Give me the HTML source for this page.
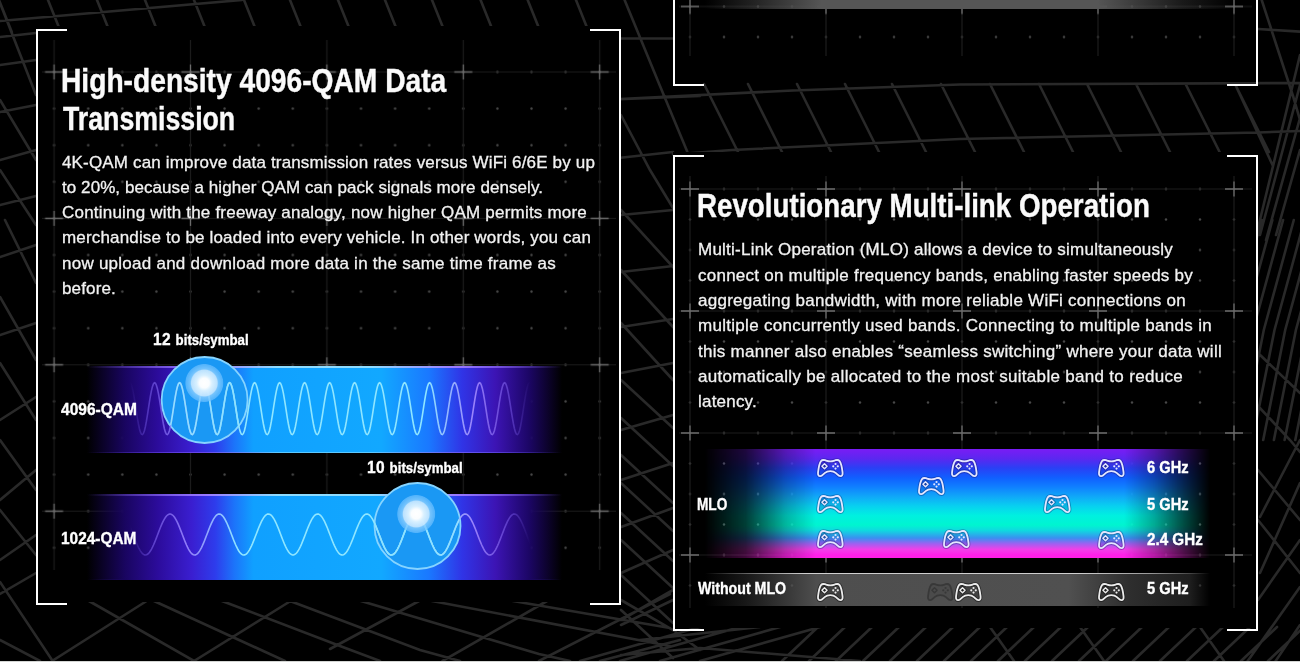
<!DOCTYPE html>
<html lang="en"><head><meta charset="utf-8"><title>WiFi 7 features</title>
<style>
html,body{margin:0;padding:0;background:#000;}
body{width:1300px;height:662px;position:relative;overflow:hidden;font-family:"Liberation Sans",sans-serif;color:#f4f4f4;}
.abs{position:absolute}
.panel{position:absolute;}
.blk{position:absolute;background:#000}
.panel:before,.panel:after{content:"";position:absolute;top:0;bottom:0;width:29px;border:2px solid #fff;}
.panel:before{left:0;border-right:none}
.panel:after{right:0;border-left:none}
.panel.notop:before,.panel.notop:after{border-top:none}
.grid{position:absolute;left:0;top:0}
h2{margin:0}
.ln{position:absolute;white-space:nowrap;font-size:17px;line-height:20px;color:#f2f2f2;-webkit-text-stroke:.3px #f2f2f2}
.lb{position:absolute;white-space:nowrap;font-weight:bold;transform-origin:0 50%;color:#fff;line-height:20px;-webkit-text-stroke:.35px #fff}
.lb.hd{line-height:40px;color:#fafafa;-webkit-text-stroke:.4px #fafafa}
.lb .n{font-size:117%;letter-spacing:.5px;margin-right:.8px}
.gp{position:absolute;color:#e4e6ff;overflow:visible;--sh:rgba(12,14,90,.34);--f:rgba(20,30,150,.14)}
.gp.g{color:#ececec;--sh:rgba(20,20,20,.6);--f:rgba(40,40,40,.35)}
.gp.ghost{color:#353535;--sh:rgba(60,60,60,.0);--f:rgba(60,60,60,.25);opacity:.85}
</style></head><body>
<svg width="0" height="0" style="position:absolute"><defs><symbol id="gp" viewBox="0 0 28 19.4" overflow="visible"><path d="M4.2 2.2C5 1.2 7 .9 8.5 1.3C10.5 1.9 12 2.5 14 2.5C16 2.5 17.5 1.9 19.5 1.3C21 .9 23 1.2 23.8 2.2C25.2 4 26.3 9 26.9 14C27.2 16.5 26.5 18 24.6 18.1C22.8 18.2 21.5 16.2 20 14.9C18.5 13.6 16.5 12.8 14 12.8C11.5 12.8 9.5 13.6 8 14.9C6.5 16.2 5.2 18.2 3.4 18.1C1.5 18 .8 16.5 1.1 14C1.7 9 2.8 4 4.2 2.2Z" fill="var(--f)" stroke="var(--sh)" stroke-width="3.8" stroke-linejoin="round"/><path d="M7.9 4.6 10.9 7.6 7.9 10.6 4.9 7.6Z" fill="var(--sh)" stroke="var(--sh)" stroke-width="3" stroke-linejoin="round"/><path d="M4.2 2.2C5 1.2 7 .9 8.5 1.3C10.5 1.9 12 2.5 14 2.5C16 2.5 17.5 1.9 19.5 1.3C21 .9 23 1.2 23.8 2.2C25.2 4 26.3 9 26.9 14C27.2 16.5 26.5 18 24.6 18.1C22.8 18.2 21.5 16.2 20 14.9C18.5 13.6 16.5 12.8 14 12.8C11.5 12.8 9.5 13.6 8 14.9C6.5 16.2 5.2 18.2 3.4 18.1C1.5 18 .8 16.5 1.1 14C1.7 9 2.8 4 4.2 2.2Z" fill="none" stroke="currentColor" stroke-width="1.9" stroke-linejoin="round"/><path d="M7.9 4.9 10.6 7.6 7.9 10.3 5.2 7.6Z" fill="none" stroke="currentColor" stroke-width="1.5" stroke-linejoin="round"/><g fill="currentColor"><circle cx="19.5" cy="5.3" r="1.15"/><circle cx="19.5" cy="10.1" r="1.15"/><circle cx="17.1" cy="7.7" r="1.15"/><circle cx="21.9" cy="7.7" r="1.15"/></g></symbol></defs></svg>
<svg class="abs" style="left:0;top:0" width="1300" height="662" fill="none" stroke="#292929" stroke-width="2.6" stroke-linecap="round" style="filter:blur(.8px)">
<path d="M0 21 L242 0M-1 0 L11.8 32M48 0 L60.8 32M97 0 L109.8 32M145 0 L157.8 32M194 0 L206.8 32M244 0 L256.8 32M290 0 L302.8 32M338 0 L350.8 32M385 0 L397.8 32M432 0 L444.8 32M480.6 0 L493.4 32M527.7 0 L540.5 32M576 0 L588.8 32M624.6 0 L660 86 L687 151 L700 185M621 38.5 L673 38.5M600 100 L700 96M600 160 L673 152M621 115 L650 170 L673 208M620 99 L793 90.5 L960 84.5 L1300 83M673 154.5 L732 150 L960 139 L1258 132.5 L1300 131M704 84 L738 152M748 84 L782 152M797 84 L831 152M845 84 L879 152M892 84 L926 152M941 84 L975 152M990 84 L1024 152M1039 84 L1073 152M1087 84 L1121 152M1136 84 L1170 152M1185.6 84 L1219.6 152M1235 84 L1269 152M1235 84 L1273 166M1258 29 L1300 31.6M1261.7 0 L1293 96 L1300 120M1300 55 L1258 228M1300 85 L1260 235M1300 118 L1266 240M1300 150 L1276 235M1251 220 L1221 330 L1199 440M1261.7 220 L1231.7 330 L1209.7 440M1272.4 220 L1242.4 330 L1220.4 440M1283.1 220 L1253.1 330 L1231.1 440M1293.8 220 L1263.8 330 L1241.8 440M1304.5 220 L1274.5 330 L1252.5 440M1315.2 220 L1285.2 330 L1263.2 440M1325.9 220 L1295.9 330 L1273.9 440M1336.6 220 L1306.6 330 L1284.6 440M1347.3 220 L1317.3 330 L1295.3 440M1358 220 L1328 330 L1306 440M1368.7 220 L1338.7 330 L1316.7 440M1379.4 220 L1349.4 330 L1327.4 440M1258 353 L1300 393M1258 406 L1290 440 L1300 452M1260 517 L1300 440M1260 573 L1300 483M1258 520 L1300 573M1258 470 L1300 520M1247 662 L1300 587M1275 662 L1300 625M1258 600 L1300 540M580 661 L700 627M620 661 L740 627M660 661 L780 627M700 661 L820 627M782 661 L818 627M809 661 L845 627M836 661 L872 627M863 661 L899 627M890 661 L926 627M917 661 L953 627M944 661 L980 627M971 661 L1007 627M998 661 L1034 627M1025 661 L1061 627M1052 661 L1088 627M1079 661 L1115 627M1106 661 L1142 627M1133 661 L1169 627M1160 661 L1196 627M1187 661 L1223 627M1214 661 L1250 627M1241 661 L1277 627M1268 661 L1304 627M990 627 L1014 661M1080 627 L1104 661M1200 627 L1224 661M640 640 L760 627M621 655 L700 648 L860 661M621 210 L673 267M621 270 L673 327M621 323 L673 380M621 380 L673 428M621 418 L673 466M621 455 L673 503M621 483 L673 531M621 513 L673 561M621 540 L673 588M621 575 L673 623M621 610 L673 658M621 215 L673 210M621 272 L673 266M621 327 L673 319M621 373 L673 363M621 430 L673 415M621 480 L673 463M621 527 L673 508M621 573 L673 550M621 620 L673 590M621 600 L673 630 L700 650M621 625 L673 600M0 582 L52 660M89 601 L194 661M154 601 L285 661M222 601 L340 646 L380 661M290 601 L420 650 L460 661M52 661 L146.6 601M194 661 L290.6 601M0 594 L36 573M0 640 L40 661M330 649 L419 601M442.5 661 L547 601M539 661 L670 594M361 601 L539 654 L570 661M432 601 L670 646M513 601 L670 628M600 661 L680 640M0 3 L36 95M0 37 L36 33M0 65 L36 60M0 112 L36 105M0 100 L36 160M0 160 L36 150M0 170 L36 225M0 205 L36 196M5 220 L36 283M0 257 L36 245M0 297 L36 360M0 335 L36 323M0 363 L36 420M0 420 L36 397M0 440 L36 490M0 500 L36 470M0 510 L36 555M0 560 L36 535"/>
</svg>
<!-- left panel -->
<div class="blk" style="left:36px;top:26px;width:585px;height:575.5px"></div>
<svg class="abs" style="left:0;top:0" width="1300" height="662"><defs>
<pattern id="gla" patternUnits="userSpaceOnUse" x="37.05" y="53.7" width="34.1" height="36.6"><circle cx="17.05" cy="18.3" r="1.2" fill="#484848"/></pattern>
<pattern id="glb" patternUnits="userSpaceOnUse" x="-14.1" y="-1.2" width="136.4" height="146.4"><path d="M68.2 0V146.4M0 73.2H136.4" stroke="#1b1b1b" stroke-width="1.2"/><path d="M68.2 65.7v15M59.2 73.2h18" stroke="#6c6c6c" stroke-width="1.3"/></pattern>
</defs><rect x="42" y="40" width="574" height="530" fill="url(#gla)"/><rect x="42" y="40" width="574" height="530" fill="url(#glb)"/></svg>
<div class="panel" style="left:36px;top:29px;width:585px;height:576px"></div>
<!-- right top panel -->
<div class="blk" style="left:672.5px;top:0;width:585px;height:82px"></div>
<svg class="abs" style="left:0;top:0" width="1300" height="662"><defs>
<pattern id="gta" patternUnits="userSpaceOnUse" x="673.00" y="-8.75" width="34" height="30.5"><circle cx="17.00" cy="15.25" r="1.2" fill="#484848"/></pattern>
<pattern id="gtb" patternUnits="userSpaceOnUse" x="622.00" y="-54.5" width="136" height="122.0"><path d="M68.00 0V122.0M0 61.00H136" stroke="#1b1b1b" stroke-width="1.2"/><path d="M68.00 53.5v15M59.00 61.00h18" stroke="#6c6c6c" stroke-width="1.3"/></pattern>
</defs><rect x="679" y="0" width="573" height="56" fill="url(#gta)"/><rect x="679" y="0" width="573" height="56" fill="url(#gtb)"/></svg>
<div class="panel notop" style="left:672.5px;top:-10px;width:585px;height:95.5px"></div>
<div class="abs" style="left:705px;top:0;width:530px;height:8.8px;background:linear-gradient(90deg,rgba(86,86,86,0) 0,rgba(86,86,86,.35) 8%,#565656 22%,#565656 74%,rgba(86,86,86,.3) 90%,rgba(86,86,86,0) 100%)"></div>
<!-- right main panel -->
<div class="blk" style="left:672.5px;top:151.5px;width:585px;height:476px"></div>
<svg class="abs" style="left:0;top:0" width="1300" height="662"><defs>
<pattern id="gra" patternUnits="userSpaceOnUse" x="673.00" y="173.75" width="34" height="30.5"><circle cx="17.00" cy="15.25" r="1.2" fill="#484848"/></pattern>
<pattern id="grb" patternUnits="userSpaceOnUse" x="622.00" y="128.00" width="136" height="122.0"><path d="M68.00 0V122.0M0 61.00H136" stroke="#1b1b1b" stroke-width="1.2"/><path d="M68.00 53.5v15M59.00 61.00h18" stroke="#6c6c6c" stroke-width="1.3"/></pattern>
</defs><rect x="679" y="176" width="573" height="432" fill="url(#gra)"/><rect x="679" y="176" width="573" height="432" fill="url(#grb)"/></svg>
<div class="panel" style="left:672.5px;top:154.5px;width:585px;height:476.5px"></div>

<h2 class="lb hd" id="h1a" style="left:60.95px;top:60.52px;font-size:32.3px;transform:scaleX(0.8726)">High-density 4096-QAM Data</h2>
<h2 class="lb hd" id="h1b" style="left:63.00px;top:98.7px;font-size:32.3px;transform:scaleX(0.827)">Transmission</h2>
<div class="ln" id="L0" style="left:62px;top:152.5px;letter-spacing:0.162px">4K-QAM can improve data transmission rates versus WiFi 6/6E by up</div>
<div class="ln" id="L1" style="left:62px;top:177.8px;letter-spacing:0.07px">to 20%, because a higher QAM can pack signals more densely.</div>
<div class="ln" id="L2" style="left:62px;top:203.1px;letter-spacing:0.206px">Continuing with the freeway analogy, now higher QAM permits more</div>
<div class="ln" id="L3" style="left:62px;top:228.4px;letter-spacing:0.164px">merchandise to be loaded into every vehicle. In other words, you can</div>
<div class="ln" id="L4" style="left:62px;top:253.7px;letter-spacing:0.252px">now upload and download more data in the same time frame as</div>
<div class="ln" id="L5" style="left:62px;top:279.00px;letter-spacing:0.153px">before.</div>

<h2 class="lb hd" id="h2" style="left:696.71px;top:186.09px;font-size:32.3px;transform:scaleX(0.8584)">Revolutionary Multi-link Operation</h2>
<div class="ln" id="R0" style="left:698px;top:240.2px;letter-spacing:0.232px">Multi-Link Operation (MLO) allows a device to simultaneously</div>
<div class="ln" id="R1" style="left:698px;top:265.55px;letter-spacing:0.24px">connect on multiple frequency bands, enabling faster speeds by</div>
<div class="ln" id="R2" style="left:698px;top:290.9px;letter-spacing:0.254px">aggregating bandwidth, with more reliable WiFi connections on</div>
<div class="ln" id="R3" style="left:698px;top:316.25px;letter-spacing:0.289px">multiple concurrently used bands. Connecting to multiple bands in</div>
<div class="ln" id="R4" style="left:698px;top:341.6px;letter-spacing:0.266px">this manner also enables “seamless switching” where your data will</div>
<div class="ln" id="R5" style="left:698px;top:366.95px;letter-spacing:0.308px">automatically be allocated to the most suitable band to reduce</div>
<div class="ln" id="R6" style="left:698px;top:392.3px;letter-spacing:0.208px">latency.</div>

<!-- QAM bands -->
<div class="abs" style="left:87px;top:366px;width:475px;height:87px;background:linear-gradient(90deg,rgba(20,0,80,0) 0,#190560 8%,#2c0c9c 15%,#3a1ed0 22%,#2e3cec 27%,#1c74fa 31%,#10a0ff 35%,#12a8ff 62%,#1a78ff 72%,#3034e6 79%,#3c14b4 86%,#1c0666 93%,rgba(20,0,80,0) 100%)"></div>
<div class="abs" style="left:87px;top:366px;width:475px;height:1.5px;background:linear-gradient(90deg,rgba(150,110,255,0) 0,#9a78ff 25%,#8fdcff 40%,#8fdcff 60%,#9a78ff 78%,rgba(150,110,255,0) 100%)"></div>
<div class="abs" style="left:87px;top:451.5px;width:475px;height:1.5px;background:linear-gradient(90deg,rgba(120,80,255,0) 0,#6a48e8 25%,#5cc8ff 40%,#5cc8ff 60%,#6a58f0 78%,rgba(120,80,255,0) 100%)"></div>
<div class="abs" style="left:87px;top:578.5px;width:475px;height:1.5px;background:linear-gradient(90deg,rgba(120,80,255,0) 0,#4a30c8 25%,#2a90f0 40%,#2a90f0 60%,#4a40e0 78%,rgba(120,80,255,0) 100%)"></div>
<div class="abs" style="left:87px;top:494px;width:475px;height:86px;background:linear-gradient(90deg,rgba(20,0,80,0) 0,#190560 8%,#2c0c9c 15%,#3a1ed0 22%,#2e3cec 27%,#1c74fa 31%,#10a0ff 35%,#12a8ff 62%,#1a78ff 72%,#3034e6 79%,#3c14b4 86%,#1c0666 93%,rgba(20,0,80,0) 100%)"></div>
<div class="abs" style="left:87px;top:494px;width:475px;height:1.5px;background:linear-gradient(90deg,rgba(150,110,255,0) 0,#9a78ff 25%,#8fdcff 40%,#8fdcff 60%,#9a78ff 78%,rgba(150,110,255,0) 100%)"></div>
<svg class="abs" style="left:0;top:0" width="1300" height="662">
<defs>
<linearGradient id="wv" x1="130" x2="530" gradientUnits="userSpaceOnUse"><stop offset="0" stop-color="#7a5cf0" stop-opacity="0"/><stop offset=".05" stop-color="#7c60f0" stop-opacity=".55"/><stop offset=".14" stop-color="#9a86ff" stop-opacity=".9"/><stop offset=".27" stop-color="#8fe6ff"/><stop offset=".74" stop-color="#8fe6ff"/><stop offset=".86" stop-color="#a58cff" stop-opacity=".9"/><stop offset=".95" stop-color="#8060f0" stop-opacity=".5"/><stop offset="1" stop-color="#8a6cff" stop-opacity="0"/></linearGradient>
<clipPath id="c1"><circle cx="204.6" cy="400" r="42.5"/></clipPath><clipPath id="c2"><circle cx="417.5" cy="526" r="42.5"/></clipPath>
<radialGradient id="glow"><stop offset="0" stop-color="#fff"/><stop offset=".25" stop-color="#fafdff"/><stop offset=".4" stop-color="#d8f0ff"/><stop offset=".66" stop-color="#c4e6ff" stop-opacity=".95"/><stop offset=".72" stop-color="#86ccff" stop-opacity=".85"/><stop offset=".95" stop-color="#6cc0ff" stop-opacity=".7"/><stop offset="1" stop-color="#40a8ff" stop-opacity="0"/></radialGradient>
</defs>
<circle cx="204.6" cy="400" r="43" fill="#1a98f4" stroke="#86d4ff" stroke-width="1.8"/>
<circle cx="417.5" cy="526" r="43" fill="#1a98f4" stroke="#86d4ff" stroke-width="1.8"/>
<path d="M123.5,408.7 L124.5,402.23 L125.5,396.17 L126.5,390.9 L127.5,386.75 L128.4,383.97 L129.4,382.75 L130.4,383.16 L131.4,385.17 L132.4,388.67 L133.4,393.42 L134.4,399.13 L135.4,405.44 L136.4,411.96 L137.4,418.27 L138.4,423.98 L139.4,428.73 L140.4,432.23 L141.4,434.24 L142.4,434.65 L143.4,433.43 L144.4,430.65 L145.4,426.5 L146.4,421.23 L147.4,415.17 L148.4,408.7 L149.4,402.23 L150.4,396.17 L151.4,390.9 L152.4,386.75 L153.4,383.97 L154.4,382.75 L155.4,383.16 L156.4,385.17 L157.4,388.67 L158.4,393.42 L159.4,399.13 L160.4,405.44 L161.4,411.96 L162.4,418.27 L163.4,423.98 L164.4,428.73 L165.4,432.23 L166.4,434.24 L167.4,434.65 L168.4,433.43 L169.4,430.65 L170.4,426.5 L171.4,421.23 L172.4,415.17 L173.4,408.7 L174.4,402.23 L175.4,396.17 L176.4,390.9 L177.4,386.75 L178.4,383.97 L179.4,382.75 L180.4,383.16 L181.4,385.17 L182.4,388.67 L183.4,393.42 L184.4,399.13 L185.4,405.44 L186.4,411.96 L187.4,418.27 L188.4,423.98 L189.4,428.73 L190.4,432.23 L191.4,434.24 L192.4,434.65 L193.4,433.43 L194.4,430.65 L195.4,426.5 L196.4,421.23 L197.4,415.17 L198.4,408.7 L199.4,402.23 L200.4,396.17 L201.4,390.9 L202.4,386.75 L203.4,383.97 L204.4,382.75 L205.4,383.16 L206.4,385.17 L207.4,388.67 L208.4,393.42 L209.4,399.13 L210.4,405.44 L211.4,411.96 L212.4,418.27 L213.4,423.98 L214.4,428.73 L215.4,432.23 L216.4,434.24 L217.4,434.65 L218.4,433.43 L219.4,430.65 L220.4,426.5 L221.4,421.23 L222.4,415.17 L223.4,408.7 L224.4,402.23 L225.4,396.17 L226.4,390.9 L227.4,386.75 L228.4,383.97 L229.4,382.75 L230.4,383.16 L231.4,385.17 L232.4,388.67 L233.4,393.42 L234.4,399.13 L235.4,405.44 L236.4,411.96 L237.4,418.27 L238.4,423.98 L239.4,428.73 L240.4,432.23 L241.4,434.24 L242.4,434.65 L243.4,433.43 L244.4,430.65 L245.4,426.5 L246.4,421.23 L247.4,415.17 L248.4,408.7 L249.4,402.23 L250.4,396.17 L251.4,390.9 L252.4,386.75 L253.4,383.97 L254.4,382.75 L255.4,383.16 L256.4,385.17 L257.4,388.67 L258.4,393.42 L259.4,399.13 L260.4,405.44 L261.4,411.96 L262.4,418.27 L263.4,423.98 L264.4,428.73 L265.4,432.23 L266.4,434.24 L267.4,434.65 L268.4,433.43 L269.4,430.65 L270.4,426.5 L271.4,421.23 L272.4,415.17 L273.4,408.7 L274.4,402.23 L275.4,396.17 L276.4,390.9 L277.4,386.75 L278.4,383.97 L279.4,382.75 L280.4,383.16 L281.4,385.17 L282.4,388.67 L283.4,393.42 L284.4,399.13 L285.4,405.44 L286.4,411.96 L287.4,418.27 L288.4,423.98 L289.4,428.73 L290.4,432.23 L291.4,434.24 L292.4,434.65 L293.4,433.43 L294.4,430.65 L295.4,426.5 L296.4,421.23 L297.4,415.17 L298.4,408.7 L299.4,402.23 L300.4,396.17 L301.4,390.9 L302.4,386.75 L303.4,383.97 L304.4,382.75 L305.4,383.16 L306.4,385.17 L307.4,388.67 L308.4,393.42 L309.4,399.13 L310.4,405.44 L311.4,411.96 L312.4,418.27 L313.4,423.98 L314.4,428.73 L315.4,432.23 L316.4,434.24 L317.4,434.65 L318.4,433.43 L319.4,430.65 L320.4,426.5 L321.4,421.23 L322.4,415.17 L323.4,408.7 L324.4,402.23 L325.4,396.17 L326.4,390.9 L327.4,386.75 L328.4,383.97 L329.4,382.75 L330.4,383.16 L331.4,385.17 L332.4,388.67 L333.4,393.42 L334.4,399.13 L335.4,405.44 L336.4,411.96 L337.4,418.27 L338.4,423.98 L339.4,428.73 L340.4,432.23 L341.4,434.24 L342.4,434.65 L343.4,433.43 L344.4,430.65 L345.4,426.5 L346.4,421.23 L347.4,415.17 L348.4,408.7 L349.4,402.23 L350.4,396.17 L351.4,390.9 L352.4,386.75 L353.4,383.97 L354.4,382.75 L355.4,383.16 L356.4,385.17 L357.4,388.67 L358.4,393.42 L359.4,399.13 L360.4,405.44 L361.4,411.96 L362.4,418.27 L363.4,423.98 L364.4,428.73 L365.4,432.23 L366.4,434.24 L367.4,434.65 L368.4,433.43 L369.4,430.65 L370.4,426.5 L371.4,421.23 L372.4,415.17 L373.4,408.7 L374.4,402.23 L375.4,396.17 L376.4,390.9 L377.4,386.75 L378.4,383.97 L379.4,382.75 L380.4,383.16 L381.4,385.17 L382.4,388.67 L383.4,393.42 L384.4,399.13 L385.4,405.44 L386.4,411.96 L387.4,418.27 L388.4,423.98 L389.4,428.73 L390.4,432.23 L391.4,434.24 L392.4,434.65 L393.4,433.43 L394.4,430.65 L395.4,426.5 L396.4,421.23 L397.4,415.17 L398.4,408.7 L399.4,402.23 L400.4,396.17 L401.4,390.9 L402.4,386.75 L403.4,383.97 L404.4,382.75 L405.4,383.16 L406.4,385.17 L407.4,388.67 L408.4,393.42 L409.4,399.13 L410.4,405.44 L411.4,411.96 L412.4,418.27 L413.4,423.98 L414.4,428.73 L415.4,432.23 L416.4,434.24 L417.4,434.65 L418.4,433.43 L419.4,430.65 L420.4,426.5 L421.4,421.23 L422.4,415.17 L423.4,408.7 L424.4,402.23 L425.4,396.17 L426.4,390.9 L427.4,386.75 L428.4,383.97 L429.4,382.75 L430.4,383.16 L431.4,385.17 L432.4,388.67 L433.4,393.42 L434.4,399.13 L435.4,405.44 L436.4,411.96 L437.4,418.27 L438.4,423.98 L439.4,428.73 L440.4,432.23 L441.4,434.24 L442.4,434.65 L443.4,433.43 L444.4,430.65 L445.4,426.5 L446.4,421.23 L447.4,415.17 L448.4,408.7 L449.4,402.23 L450.4,396.17 L451.4,390.9 L452.4,386.75 L453.4,383.97 L454.4,382.75 L455.4,383.16 L456.4,385.17 L457.4,388.67 L458.4,393.42 L459.4,399.13 L460.4,405.44 L461.4,411.96 L462.4,418.27 L463.4,423.98 L464.4,428.73 L465.4,432.23 L466.4,434.24 L467.4,434.65 L468.4,433.43 L469.4,430.65 L470.4,426.5 L471.4,421.23 L472.4,415.17 L473.4,408.7 L474.4,402.23 L475.4,396.17 L476.4,390.9 L477.4,386.75 L478.4,383.97 L479.4,382.75 L480.4,383.16 L481.4,385.17 L482.4,388.67 L483.4,393.42 L484.4,399.13 L485.4,405.44 L486.4,411.96 L487.4,418.27 L488.4,423.98 L489.4,428.73 L490.4,432.23 L491.4,434.24 L492.4,434.65 L493.4,433.43 L494.4,430.65 L495.4,426.5 L496.4,421.23 L497.4,415.17 L498.4,408.7 L499.4,402.23 L500.4,396.17 L501.4,390.9 L502.4,386.75 L503.4,383.97 L504.4,382.75 L505.4,383.16 L506.4,385.17 L507.4,388.67 L508.4,393.42 L509.4,399.13 L510.4,405.44 L511.4,411.96 L512.5,418.27 L513.5,423.98 L514.5,428.73 L515.5,432.23 L516.5,434.24 L517.5,434.65 L518.5,433.43 L519.5,430.65 L520.5,426.5 L521.5,421.23 L522.5,415.17 L523.5,408.7 L524.5,402.23 L525.5,396.17 L526.5,390.9 L527.5,386.75 L528.5,383.97 L529.5,382.75 L530.5,383.16" fill="none" stroke="url(#wv)" stroke-width="1.6"/>
<path d="M123.5,408.7 L124.5,402.23 L125.5,396.17 L126.5,390.9 L127.5,386.75 L128.4,383.97 L129.4,382.75 L130.4,383.16 L131.4,385.17 L132.4,388.67 L133.4,393.42 L134.4,399.13 L135.4,405.44 L136.4,411.96 L137.4,418.27 L138.4,423.98 L139.4,428.73 L140.4,432.23 L141.4,434.24 L142.4,434.65 L143.4,433.43 L144.4,430.65 L145.4,426.5 L146.4,421.23 L147.4,415.17 L148.4,408.7 L149.4,402.23 L150.4,396.17 L151.4,390.9 L152.4,386.75 L153.4,383.97 L154.4,382.75 L155.4,383.16 L156.4,385.17 L157.4,388.67 L158.4,393.42 L159.4,399.13 L160.4,405.44 L161.4,411.96 L162.4,418.27 L163.4,423.98 L164.4,428.73 L165.4,432.23 L166.4,434.24 L167.4,434.65 L168.4,433.43 L169.4,430.65 L170.4,426.5 L171.4,421.23 L172.4,415.17 L173.4,408.7 L174.4,402.23 L175.4,396.17 L176.4,390.9 L177.4,386.75 L178.4,383.97 L179.4,382.75 L180.4,383.16 L181.4,385.17 L182.4,388.67 L183.4,393.42 L184.4,399.13 L185.4,405.44 L186.4,411.96 L187.4,418.27 L188.4,423.98 L189.4,428.73 L190.4,432.23 L191.4,434.24 L192.4,434.65 L193.4,433.43 L194.4,430.65 L195.4,426.5 L196.4,421.23 L197.4,415.17 L198.4,408.7 L199.4,402.23 L200.4,396.17 L201.4,390.9 L202.4,386.75 L203.4,383.97 L204.4,382.75 L205.4,383.16 L206.4,385.17 L207.4,388.67 L208.4,393.42 L209.4,399.13 L210.4,405.44 L211.4,411.96 L212.4,418.27 L213.4,423.98 L214.4,428.73 L215.4,432.23 L216.4,434.24 L217.4,434.65 L218.4,433.43 L219.4,430.65 L220.4,426.5 L221.4,421.23 L222.4,415.17 L223.4,408.7 L224.4,402.23 L225.4,396.17 L226.4,390.9 L227.4,386.75 L228.4,383.97 L229.4,382.75 L230.4,383.16 L231.4,385.17 L232.4,388.67 L233.4,393.42 L234.4,399.13 L235.4,405.44 L236.4,411.96 L237.4,418.27 L238.4,423.98 L239.4,428.73 L240.4,432.23 L241.4,434.24 L242.4,434.65 L243.4,433.43 L244.4,430.65 L245.4,426.5 L246.4,421.23 L247.4,415.17 L248.4,408.7 L249.4,402.23 L250.4,396.17 L251.4,390.9 L252.4,386.75 L253.4,383.97 L254.4,382.75 L255.4,383.16 L256.4,385.17 L257.4,388.67 L258.4,393.42 L259.4,399.13 L260.4,405.44 L261.4,411.96 L262.4,418.27 L263.4,423.98 L264.4,428.73 L265.4,432.23 L266.4,434.24 L267.4,434.65 L268.4,433.43 L269.4,430.65 L270.4,426.5 L271.4,421.23 L272.4,415.17 L273.4,408.7 L274.4,402.23 L275.4,396.17 L276.4,390.9 L277.4,386.75 L278.4,383.97 L279.4,382.75 L280.4,383.16 L281.4,385.17 L282.4,388.67 L283.4,393.42 L284.4,399.13 L285.4,405.44 L286.4,411.96 L287.4,418.27 L288.4,423.98 L289.4,428.73 L290.4,432.23 L291.4,434.24 L292.4,434.65 L293.4,433.43 L294.4,430.65 L295.4,426.5 L296.4,421.23 L297.4,415.17 L298.4,408.7 L299.4,402.23 L300.4,396.17 L301.4,390.9 L302.4,386.75 L303.4,383.97 L304.4,382.75 L305.4,383.16 L306.4,385.17 L307.4,388.67 L308.4,393.42 L309.4,399.13 L310.4,405.44 L311.4,411.96 L312.4,418.27 L313.4,423.98 L314.4,428.73 L315.4,432.23 L316.4,434.24 L317.4,434.65 L318.4,433.43 L319.4,430.65 L320.4,426.5 L321.4,421.23 L322.4,415.17 L323.4,408.7 L324.4,402.23 L325.4,396.17 L326.4,390.9 L327.4,386.75 L328.4,383.97 L329.4,382.75 L330.4,383.16 L331.4,385.17 L332.4,388.67 L333.4,393.42 L334.4,399.13 L335.4,405.44 L336.4,411.96 L337.4,418.27 L338.4,423.98 L339.4,428.73 L340.4,432.23 L341.4,434.24 L342.4,434.65 L343.4,433.43 L344.4,430.65 L345.4,426.5 L346.4,421.23 L347.4,415.17 L348.4,408.7 L349.4,402.23 L350.4,396.17 L351.4,390.9 L352.4,386.75 L353.4,383.97 L354.4,382.75 L355.4,383.16 L356.4,385.17 L357.4,388.67 L358.4,393.42 L359.4,399.13 L360.4,405.44 L361.4,411.96 L362.4,418.27 L363.4,423.98 L364.4,428.73 L365.4,432.23 L366.4,434.24 L367.4,434.65 L368.4,433.43 L369.4,430.65 L370.4,426.5 L371.4,421.23 L372.4,415.17 L373.4,408.7 L374.4,402.23 L375.4,396.17 L376.4,390.9 L377.4,386.75 L378.4,383.97 L379.4,382.75 L380.4,383.16 L381.4,385.17 L382.4,388.67 L383.4,393.42 L384.4,399.13 L385.4,405.44 L386.4,411.96 L387.4,418.27 L388.4,423.98 L389.4,428.73 L390.4,432.23 L391.4,434.24 L392.4,434.65 L393.4,433.43 L394.4,430.65 L395.4,426.5 L396.4,421.23 L397.4,415.17 L398.4,408.7 L399.4,402.23 L400.4,396.17 L401.4,390.9 L402.4,386.75 L403.4,383.97 L404.4,382.75 L405.4,383.16 L406.4,385.17 L407.4,388.67 L408.4,393.42 L409.4,399.13 L410.4,405.44 L411.4,411.96 L412.4,418.27 L413.4,423.98 L414.4,428.73 L415.4,432.23 L416.4,434.24 L417.4,434.65 L418.4,433.43 L419.4,430.65 L420.4,426.5 L421.4,421.23 L422.4,415.17 L423.4,408.7 L424.4,402.23 L425.4,396.17 L426.4,390.9 L427.4,386.75 L428.4,383.97 L429.4,382.75 L430.4,383.16 L431.4,385.17 L432.4,388.67 L433.4,393.42 L434.4,399.13 L435.4,405.44 L436.4,411.96 L437.4,418.27 L438.4,423.98 L439.4,428.73 L440.4,432.23 L441.4,434.24 L442.4,434.65 L443.4,433.43 L444.4,430.65 L445.4,426.5 L446.4,421.23 L447.4,415.17 L448.4,408.7 L449.4,402.23 L450.4,396.17 L451.4,390.9 L452.4,386.75 L453.4,383.97 L454.4,382.75 L455.4,383.16 L456.4,385.17 L457.4,388.67 L458.4,393.42 L459.4,399.13 L460.4,405.44 L461.4,411.96 L462.4,418.27 L463.4,423.98 L464.4,428.73 L465.4,432.23 L466.4,434.24 L467.4,434.65 L468.4,433.43 L469.4,430.65 L470.4,426.5 L471.4,421.23 L472.4,415.17 L473.4,408.7 L474.4,402.23 L475.4,396.17 L476.4,390.9 L477.4,386.75 L478.4,383.97 L479.4,382.75 L480.4,383.16 L481.4,385.17 L482.4,388.67 L483.4,393.42 L484.4,399.13 L485.4,405.44 L486.4,411.96 L487.4,418.27 L488.4,423.98 L489.4,428.73 L490.4,432.23 L491.4,434.24 L492.4,434.65 L493.4,433.43 L494.4,430.65 L495.4,426.5 L496.4,421.23 L497.4,415.17 L498.4,408.7 L499.4,402.23 L500.4,396.17 L501.4,390.9 L502.4,386.75 L503.4,383.97 L504.4,382.75 L505.4,383.16 L506.4,385.17 L507.4,388.67 L508.4,393.42 L509.4,399.13 L510.4,405.44 L511.4,411.96 L512.5,418.27 L513.5,423.98 L514.5,428.73 L515.5,432.23 L516.5,434.24 L517.5,434.65 L518.5,433.43 L519.5,430.65 L520.5,426.5 L521.5,421.23 L522.5,415.17 L523.5,408.7 L524.5,402.23 L525.5,396.17 L526.5,390.9 L527.5,386.75 L528.5,383.97 L529.5,382.75 L530.5,383.16" fill="none" stroke="#8fe2ff" clip-path="url(#c1)" stroke-width="1.6"/>
<path d="M108.5,534.5 L109.5,531.89 L110.5,529.32 L111.5,526.84 L112.5,524.48 L113.5,522.28 L114.5,520.28 L115.5,518.52 L116.5,517.01 L117.5,515.79 L118.5,514.88 L119.5,514.28 L120.5,514.02 L121.5,514.08 L122.5,514.48 L123.5,515.21 L124.5,516.25 L125.5,517.58 L126.5,519.2 L127.5,521.06 L128.5,523.14 L129.5,525.4 L130.5,527.82 L131.5,530.34 L132.5,532.93 L133.5,535.55 L134.5,538.15 L135.5,540.69 L136.5,543.12 L137.5,545.42 L138.5,547.54 L139.5,549.45 L140.5,551.12 L141.5,552.51 L142.5,553.61 L143.5,554.4 L144.5,554.86 L145.5,555.00 L146.5,554.8 L147.5,554.27 L148.5,553.41 L149.5,552.25 L150.5,550.8 L151.5,549.09 L152.5,547.13 L153.5,544.98 L154.5,542.65 L155.5,540.18 L156.5,537.63 L157.5,535.02 L158.5,532.41 L159.5,529.83 L160.5,527.32 L161.5,524.94 L162.5,522.71 L163.5,520.67 L164.5,518.85 L165.5,517.29 L166.5,516.01 L167.5,515.04 L168.5,514.37 L169.5,514.04 L170.5,514.04 L171.5,514.37 L172.5,515.04 L173.5,516.01 L174.5,517.29 L175.5,518.85 L176.5,520.67 L177.5,522.71 L178.5,524.94 L179.5,527.32 L180.5,529.83 L181.5,532.41 L182.5,535.02 L183.5,537.63 L184.5,540.18 L185.5,542.65 L186.5,544.98 L187.5,547.13 L188.5,549.09 L189.5,550.8 L190.5,552.25 L191.5,553.41 L192.5,554.27 L193.5,554.8 L194.5,555.00 L195.5,554.86 L196.5,554.4 L197.5,553.61 L198.5,552.51 L199.5,551.12 L200.5,549.45 L201.5,547.54 L202.5,545.42 L203.5,543.12 L204.5,540.69 L205.5,538.15 L206.5,535.55 L207.5,532.93 L208.5,530.34 L209.5,527.82 L210.5,525.4 L211.5,523.14 L212.5,521.06 L213.5,519.2 L214.5,517.58 L215.5,516.25 L216.5,515.21 L217.5,514.48 L218.5,514.08 L219.5,514.02 L220.5,514.28 L221.5,514.88 L222.5,515.79 L223.5,517.01 L224.5,518.52 L225.5,520.28 L226.5,522.28 L227.5,524.48 L228.5,526.84 L229.5,529.32 L230.5,531.89 L231.5,534.5 L232.5,537.11 L233.5,539.68 L234.5,542.16 L235.5,544.52 L236.5,546.72 L237.5,548.72 L238.5,550.48 L239.5,551.99 L240.5,553.21 L241.5,554.12 L242.5,554.72 L243.5,554.98 L244.5,554.92 L245.5,554.52 L246.5,553.79 L247.5,552.75 L248.5,551.42 L249.5,549.8 L250.5,547.94 L251.5,545.86 L252.5,543.6 L253.5,541.18 L254.5,538.66 L255.5,536.07 L256.5,533.45 L257.5,530.85 L258.5,528.31 L259.5,525.88 L260.5,523.58 L261.5,521.46 L262.5,519.55 L263.5,517.88 L264.5,516.49 L265.5,515.39 L266.5,514.6 L267.5,514.14 L268.5,514.00 L269.5,514.2 L270.5,514.73 L271.5,515.59 L272.5,516.75 L273.5,518.2 L274.5,519.91 L275.5,521.87 L276.5,524.02 L277.5,526.35 L278.5,528.82 L279.5,531.37 L280.5,533.98 L281.5,536.59 L282.5,539.17 L283.5,541.68 L284.5,544.06 L285.5,546.29 L286.5,548.33 L287.5,550.15 L288.5,551.71 L289.5,552.99 L290.5,553.96 L291.5,554.63 L292.5,554.96 L293.5,554.96 L294.5,554.63 L295.5,553.96 L296.5,552.99 L297.5,551.71 L298.5,550.15 L299.5,548.33 L300.5,546.29 L301.5,544.06 L302.5,541.68 L303.5,539.17 L304.5,536.59 L305.5,533.98 L306.5,531.37 L307.5,528.82 L308.5,526.35 L309.5,524.02 L310.5,521.87 L311.5,519.91 L312.5,518.2 L313.5,516.75 L314.5,515.59 L315.5,514.73 L316.5,514.2 L317.5,514.00 L318.5,514.14 L319.5,514.6 L320.5,515.39 L321.5,516.49 L322.5,517.88 L323.5,519.55 L324.5,521.46 L325.5,523.58 L326.5,525.88 L327.5,528.31 L328.5,530.85 L329.5,533.45 L330.5,536.07 L331.5,538.66 L332.5,541.18 L333.5,543.6 L334.5,545.86 L335.5,547.94 L336.5,549.8 L337.5,551.42 L338.5,552.75 L339.5,553.79 L340.5,554.52 L341.5,554.92 L342.5,554.98 L343.5,554.72 L344.5,554.12 L345.5,553.21 L346.5,551.99 L347.5,550.48 L348.5,548.72 L349.5,546.72 L350.5,544.52 L351.5,542.16 L352.5,539.68 L353.5,537.11 L354.5,534.5 L355.5,531.89 L356.5,529.32 L357.5,526.84 L358.5,524.48 L359.5,522.28 L360.5,520.28 L361.5,518.52 L362.5,517.01 L363.5,515.79 L364.5,514.88 L365.5,514.28 L366.5,514.02 L367.5,514.08 L368.5,514.48 L369.5,515.21 L370.5,516.25 L371.5,517.58 L372.5,519.2 L373.5,521.06 L374.5,523.14 L375.5,525.4 L376.5,527.82 L377.5,530.34 L378.5,532.93 L379.5,535.55 L380.5,538.15 L381.5,540.69 L382.5,543.12 L383.5,545.42 L384.5,547.54 L385.5,549.45 L386.5,551.12 L387.5,552.51 L388.5,553.61 L389.5,554.4 L390.5,554.86 L391.5,555.00 L392.5,554.8 L393.5,554.27 L394.5,553.41 L395.5,552.25 L396.5,550.8 L397.5,549.09 L398.5,547.13 L399.5,544.98 L400.5,542.65 L401.5,540.18 L402.5,537.63 L403.5,535.02 L404.5,532.41 L405.5,529.83 L406.5,527.32 L407.5,524.94 L408.5,522.71 L409.5,520.67 L410.5,518.85 L411.5,517.29 L412.5,516.01 L413.5,515.04 L414.5,514.37 L415.5,514.04 L416.5,514.04 L417.5,514.37 L418.5,515.04 L419.5,516.01 L420.5,517.29 L421.5,518.85 L422.5,520.67 L423.5,522.71 L424.5,524.94 L425.5,527.32 L426.5,529.83 L427.5,532.41 L428.5,535.02 L429.5,537.63 L430.5,540.18 L431.5,542.65 L432.5,544.98 L433.5,547.13 L434.5,549.09 L435.5,550.8 L436.5,552.25 L437.5,553.41 L438.5,554.27 L439.5,554.8 L440.5,555.00 L441.5,554.86 L442.5,554.4 L443.5,553.61 L444.5,552.51 L445.5,551.12 L446.5,549.45 L447.5,547.54 L448.5,545.42 L449.5,543.12 L450.5,540.69 L451.5,538.15 L452.5,535.55 L453.5,532.93 L454.5,530.34 L455.5,527.82 L456.5,525.4 L457.5,523.14 L458.5,521.06 L459.5,519.2 L460.5,517.58 L461.5,516.25 L462.5,515.21 L463.5,514.48 L464.5,514.08 L465.5,514.02 L466.5,514.28 L467.5,514.88 L468.5,515.79 L469.5,517.01 L470.5,518.52 L471.5,520.28 L472.5,522.28 L473.5,524.48 L474.5,526.84 L475.5,529.32 L476.5,531.89 L477.5,534.5 L478.5,537.11 L479.5,539.68 L480.5,542.16 L481.5,544.52 L482.5,546.72 L483.5,548.72 L484.5,550.48 L485.5,551.99 L486.5,553.21 L487.5,554.12 L488.5,554.72 L489.5,554.98 L490.5,554.92 L491.5,554.52 L492.5,553.79 L493.5,552.75 L494.5,551.42 L495.5,549.8 L496.5,547.94 L497.5,545.86 L498.5,543.6 L499.5,541.18 L500.5,538.66 L501.5,536.07 L502.5,533.45 L503.5,530.85 L504.5,528.31 L505.5,525.88 L506.5,523.58 L507.5,521.46 L508.5,519.55 L509.5,517.88 L510.5,516.49 L511.5,515.39 L512.5,514.6 L513.5,514.14 L514.5,514.00 L515.5,514.2 L516.5,514.73 L517.5,515.59 L518.5,516.75 L519.5,518.2 L520.5,519.91 L521.5,521.87 L522.5,524.02 L523.5,526.35 L524.5,528.82 L525.5,531.37 L526.5,533.98 L527.5,536.59 L528.5,539.17 L529.5,541.68 L530.5,544.06 L531.5,546.29 L532.5,548.33 L533.5,550.15 L534.5,551.71 L535.5,552.99 L536.5,553.96 L537.5,554.63 L538.5,554.96 L539.5,554.96 L540.5,554.63 L541.5,553.96 L542.5,552.99 L543.5,551.71 L544.5,550.15" fill="none" stroke="url(#wv)" stroke-width="1.6"/>
<path d="M108.5,534.5 L109.5,531.89 L110.5,529.32 L111.5,526.84 L112.5,524.48 L113.5,522.28 L114.5,520.28 L115.5,518.52 L116.5,517.01 L117.5,515.79 L118.5,514.88 L119.5,514.28 L120.5,514.02 L121.5,514.08 L122.5,514.48 L123.5,515.21 L124.5,516.25 L125.5,517.58 L126.5,519.2 L127.5,521.06 L128.5,523.14 L129.5,525.4 L130.5,527.82 L131.5,530.34 L132.5,532.93 L133.5,535.55 L134.5,538.15 L135.5,540.69 L136.5,543.12 L137.5,545.42 L138.5,547.54 L139.5,549.45 L140.5,551.12 L141.5,552.51 L142.5,553.61 L143.5,554.4 L144.5,554.86 L145.5,555.00 L146.5,554.8 L147.5,554.27 L148.5,553.41 L149.5,552.25 L150.5,550.8 L151.5,549.09 L152.5,547.13 L153.5,544.98 L154.5,542.65 L155.5,540.18 L156.5,537.63 L157.5,535.02 L158.5,532.41 L159.5,529.83 L160.5,527.32 L161.5,524.94 L162.5,522.71 L163.5,520.67 L164.5,518.85 L165.5,517.29 L166.5,516.01 L167.5,515.04 L168.5,514.37 L169.5,514.04 L170.5,514.04 L171.5,514.37 L172.5,515.04 L173.5,516.01 L174.5,517.29 L175.5,518.85 L176.5,520.67 L177.5,522.71 L178.5,524.94 L179.5,527.32 L180.5,529.83 L181.5,532.41 L182.5,535.02 L183.5,537.63 L184.5,540.18 L185.5,542.65 L186.5,544.98 L187.5,547.13 L188.5,549.09 L189.5,550.8 L190.5,552.25 L191.5,553.41 L192.5,554.27 L193.5,554.8 L194.5,555.00 L195.5,554.86 L196.5,554.4 L197.5,553.61 L198.5,552.51 L199.5,551.12 L200.5,549.45 L201.5,547.54 L202.5,545.42 L203.5,543.12 L204.5,540.69 L205.5,538.15 L206.5,535.55 L207.5,532.93 L208.5,530.34 L209.5,527.82 L210.5,525.4 L211.5,523.14 L212.5,521.06 L213.5,519.2 L214.5,517.58 L215.5,516.25 L216.5,515.21 L217.5,514.48 L218.5,514.08 L219.5,514.02 L220.5,514.28 L221.5,514.88 L222.5,515.79 L223.5,517.01 L224.5,518.52 L225.5,520.28 L226.5,522.28 L227.5,524.48 L228.5,526.84 L229.5,529.32 L230.5,531.89 L231.5,534.5 L232.5,537.11 L233.5,539.68 L234.5,542.16 L235.5,544.52 L236.5,546.72 L237.5,548.72 L238.5,550.48 L239.5,551.99 L240.5,553.21 L241.5,554.12 L242.5,554.72 L243.5,554.98 L244.5,554.92 L245.5,554.52 L246.5,553.79 L247.5,552.75 L248.5,551.42 L249.5,549.8 L250.5,547.94 L251.5,545.86 L252.5,543.6 L253.5,541.18 L254.5,538.66 L255.5,536.07 L256.5,533.45 L257.5,530.85 L258.5,528.31 L259.5,525.88 L260.5,523.58 L261.5,521.46 L262.5,519.55 L263.5,517.88 L264.5,516.49 L265.5,515.39 L266.5,514.6 L267.5,514.14 L268.5,514.00 L269.5,514.2 L270.5,514.73 L271.5,515.59 L272.5,516.75 L273.5,518.2 L274.5,519.91 L275.5,521.87 L276.5,524.02 L277.5,526.35 L278.5,528.82 L279.5,531.37 L280.5,533.98 L281.5,536.59 L282.5,539.17 L283.5,541.68 L284.5,544.06 L285.5,546.29 L286.5,548.33 L287.5,550.15 L288.5,551.71 L289.5,552.99 L290.5,553.96 L291.5,554.63 L292.5,554.96 L293.5,554.96 L294.5,554.63 L295.5,553.96 L296.5,552.99 L297.5,551.71 L298.5,550.15 L299.5,548.33 L300.5,546.29 L301.5,544.06 L302.5,541.68 L303.5,539.17 L304.5,536.59 L305.5,533.98 L306.5,531.37 L307.5,528.82 L308.5,526.35 L309.5,524.02 L310.5,521.87 L311.5,519.91 L312.5,518.2 L313.5,516.75 L314.5,515.59 L315.5,514.73 L316.5,514.2 L317.5,514.00 L318.5,514.14 L319.5,514.6 L320.5,515.39 L321.5,516.49 L322.5,517.88 L323.5,519.55 L324.5,521.46 L325.5,523.58 L326.5,525.88 L327.5,528.31 L328.5,530.85 L329.5,533.45 L330.5,536.07 L331.5,538.66 L332.5,541.18 L333.5,543.6 L334.5,545.86 L335.5,547.94 L336.5,549.8 L337.5,551.42 L338.5,552.75 L339.5,553.79 L340.5,554.52 L341.5,554.92 L342.5,554.98 L343.5,554.72 L344.5,554.12 L345.5,553.21 L346.5,551.99 L347.5,550.48 L348.5,548.72 L349.5,546.72 L350.5,544.52 L351.5,542.16 L352.5,539.68 L353.5,537.11 L354.5,534.5 L355.5,531.89 L356.5,529.32 L357.5,526.84 L358.5,524.48 L359.5,522.28 L360.5,520.28 L361.5,518.52 L362.5,517.01 L363.5,515.79 L364.5,514.88 L365.5,514.28 L366.5,514.02 L367.5,514.08 L368.5,514.48 L369.5,515.21 L370.5,516.25 L371.5,517.58 L372.5,519.2 L373.5,521.06 L374.5,523.14 L375.5,525.4 L376.5,527.82 L377.5,530.34 L378.5,532.93 L379.5,535.55 L380.5,538.15 L381.5,540.69 L382.5,543.12 L383.5,545.42 L384.5,547.54 L385.5,549.45 L386.5,551.12 L387.5,552.51 L388.5,553.61 L389.5,554.4 L390.5,554.86 L391.5,555.00 L392.5,554.8 L393.5,554.27 L394.5,553.41 L395.5,552.25 L396.5,550.8 L397.5,549.09 L398.5,547.13 L399.5,544.98 L400.5,542.65 L401.5,540.18 L402.5,537.63 L403.5,535.02 L404.5,532.41 L405.5,529.83 L406.5,527.32 L407.5,524.94 L408.5,522.71 L409.5,520.67 L410.5,518.85 L411.5,517.29 L412.5,516.01 L413.5,515.04 L414.5,514.37 L415.5,514.04 L416.5,514.04 L417.5,514.37 L418.5,515.04 L419.5,516.01 L420.5,517.29 L421.5,518.85 L422.5,520.67 L423.5,522.71 L424.5,524.94 L425.5,527.32 L426.5,529.83 L427.5,532.41 L428.5,535.02 L429.5,537.63 L430.5,540.18 L431.5,542.65 L432.5,544.98 L433.5,547.13 L434.5,549.09 L435.5,550.8 L436.5,552.25 L437.5,553.41 L438.5,554.27 L439.5,554.8 L440.5,555.00 L441.5,554.86 L442.5,554.4 L443.5,553.61 L444.5,552.51 L445.5,551.12 L446.5,549.45 L447.5,547.54 L448.5,545.42 L449.5,543.12 L450.5,540.69 L451.5,538.15 L452.5,535.55 L453.5,532.93 L454.5,530.34 L455.5,527.82 L456.5,525.4 L457.5,523.14 L458.5,521.06 L459.5,519.2 L460.5,517.58 L461.5,516.25 L462.5,515.21 L463.5,514.48 L464.5,514.08 L465.5,514.02 L466.5,514.28 L467.5,514.88 L468.5,515.79 L469.5,517.01 L470.5,518.52 L471.5,520.28 L472.5,522.28 L473.5,524.48 L474.5,526.84 L475.5,529.32 L476.5,531.89 L477.5,534.5 L478.5,537.11 L479.5,539.68 L480.5,542.16 L481.5,544.52 L482.5,546.72 L483.5,548.72 L484.5,550.48 L485.5,551.99 L486.5,553.21 L487.5,554.12 L488.5,554.72 L489.5,554.98 L490.5,554.92 L491.5,554.52 L492.5,553.79 L493.5,552.75 L494.5,551.42 L495.5,549.8 L496.5,547.94 L497.5,545.86 L498.5,543.6 L499.5,541.18 L500.5,538.66 L501.5,536.07 L502.5,533.45 L503.5,530.85 L504.5,528.31 L505.5,525.88 L506.5,523.58 L507.5,521.46 L508.5,519.55 L509.5,517.88 L510.5,516.49 L511.5,515.39 L512.5,514.6 L513.5,514.14 L514.5,514.00 L515.5,514.2 L516.5,514.73 L517.5,515.59 L518.5,516.75 L519.5,518.2 L520.5,519.91 L521.5,521.87 L522.5,524.02 L523.5,526.35 L524.5,528.82 L525.5,531.37 L526.5,533.98 L527.5,536.59 L528.5,539.17 L529.5,541.68 L530.5,544.06 L531.5,546.29 L532.5,548.33 L533.5,550.15 L534.5,551.71 L535.5,552.99 L536.5,553.96 L537.5,554.63 L538.5,554.96 L539.5,554.96 L540.5,554.63 L541.5,553.96 L542.5,552.99 L543.5,551.71 L544.5,550.15" fill="none" stroke="#8fe2ff" clip-path="url(#c2)" stroke-width="1.6"/>
<circle cx="204.3" cy="383" r="19.5" fill="url(#glow)"/>
<circle cx="416.2" cy="514" r="19.5" fill="url(#glow)"/>
</svg>
<div class="lb" id="q1" style="left:60.98px;top:400.18px;font-size:16.7px;transform:scaleX(0.9314)">4096-QAM</div>
<div class="lb" id="q2" style="left:61.42px;top:529.04px;font-size:16.7px;transform:scaleX(0.9239)">1024-QAM</div>
<div class="lb" id="b1" style="left:153.12px;top:329.98px;font-size:14.6px;transform:scaleX(0.9095)"><span class="n">12</span> bits/symbal</div>
<div class="lb" id="b2" style="left:367.1px;top:457.98px;font-size:14.6px;transform:scaleX(0.9095)"><span class="n">10</span> bits/symbal</div>
<!-- MLO band -->
<div class="abs" id="mlo" style="left:705px;top:449px;width:505px;height:108.5px;background:linear-gradient(180deg,#7a1cf5 0,#5a28f0 10px,#2a40f5 19px,#1060ff 29px,#1080ff 38px,#10a8f8 47.6px,#08d0f0 57px,#00f0e0 66.5px,#00f5d0 76px,#10d8e0 81.6px,#3a90f0 89px,#a060f0 94.8px,#f040e8 100.4px,#ff20e8 106px);-webkit-mask-image:linear-gradient(90deg,transparent 0,rgba(0,0,0,.25) 8%,rgba(0,0,0,.75) 16%,#000 22%,#000 83%,rgba(0,0,0,.7) 89%,rgba(0,0,0,.3) 95%,transparent 100%);mask-image:linear-gradient(90deg,transparent 0,rgba(0,0,0,.25) 8%,rgba(0,0,0,.75) 16%,#000 22%,#000 83%,rgba(0,0,0,.7) 89%,rgba(0,0,0,.3) 95%,transparent 100%)"></div>
<!-- grey band -->
<div class="abs" style="left:705px;top:573px;width:505px;height:33px;background:linear-gradient(90deg,rgba(80,80,80,0) 0,rgba(78,78,78,.3) 8%,#4e4e4e 22%,#505050 72%,#2e2e2e 84%,#1e1e1e 96%,rgba(30,30,30,0) 100%)"></div>
<div class="abs" style="left:705px;top:572.7px;width:505px;height:1.6px;background:linear-gradient(90deg,rgba(220,220,220,0) 0,#cfcfcf 20%,#cfcfcf 74%,#9a9a9a 88%,rgba(160,160,160,0) 100%)"></div>
<svg class="gp " style="left:817.0px;top:458.7px" width="26.6" height="18.43"><use href="#gp"/></svg><svg class="gp " style="left:951.0px;top:458.7px" width="26.6" height="18.43"><use href="#gp"/></svg><svg class="gp " style="left:1098.3px;top:459.0px" width="26.6" height="18.43"><use href="#gp"/></svg><svg class="gp " style="left:917.5px;top:476.8px" width="26.6" height="18.43"><use href="#gp"/></svg><svg class="gp " style="left:816.7px;top:495.4px" width="26.6" height="18.43"><use href="#gp"/></svg><svg class="gp " style="left:1043.7px;top:495.2px" width="26.6" height="18.43"><use href="#gp"/></svg><svg class="gp " style="left:816.7px;top:530.4px" width="26.6" height="18.43"><use href="#gp"/></svg><svg class="gp " style="left:942.5px;top:530.4px" width="26.6" height="18.43"><use href="#gp"/></svg><svg class="gp " style="left:1098.3px;top:530.9px" width="26.6" height="18.43"><use href="#gp"/></svg><svg class="gp g" style="left:816.5px;top:582.7px" width="26.6" height="18.43"><use href="#gp"/></svg><svg class="gp ghost" style="left:927.3px;top:582.9px" width="26.6" height="18.43"><use href="#gp"/></svg><svg class="gp g" style="left:955.0px;top:582.7px" width="26.6" height="18.43"><use href="#gp"/></svg><svg class="gp g" style="left:1097.5px;top:582.7px" width="26.6" height="18.43"><use href="#gp"/></svg>
<div class="lb" id="m1" style="left:697.04px;top:495.23px;font-size:16.7px;transform:scaleX(0.8163)">MLO</div>
<div class="lb" id="m2" style="left:698.00px;top:578.73px;font-size:16.7px;transform:scaleX(0.8501)">Without MLO</div>
<div class="lb" id="g1" style="left:1147.05px;top:458.46px;font-size:16.7px;transform:scaleX(0.8789)">6 GHz</div>
<div class="lb" id="g2" style="left:1147.04px;top:494.55px;font-size:16.7px;transform:scaleX(0.8789)">5 GHz</div>
<div class="lb" id="g3" style="left:1147.06px;top:529.96px;font-size:16.7px;transform:scaleX(0.9114)">2.4 GHz</div>
<div class="lb" id="g4" style="left:1147.04px;top:578.55px;font-size:16.7px;transform:scaleX(0.8789)">5 GHz</div>
<div class="abs" style="left:0;top:660.8px;width:1300px;height:2px;background:#d4d6d4"></div>
</body></html>
